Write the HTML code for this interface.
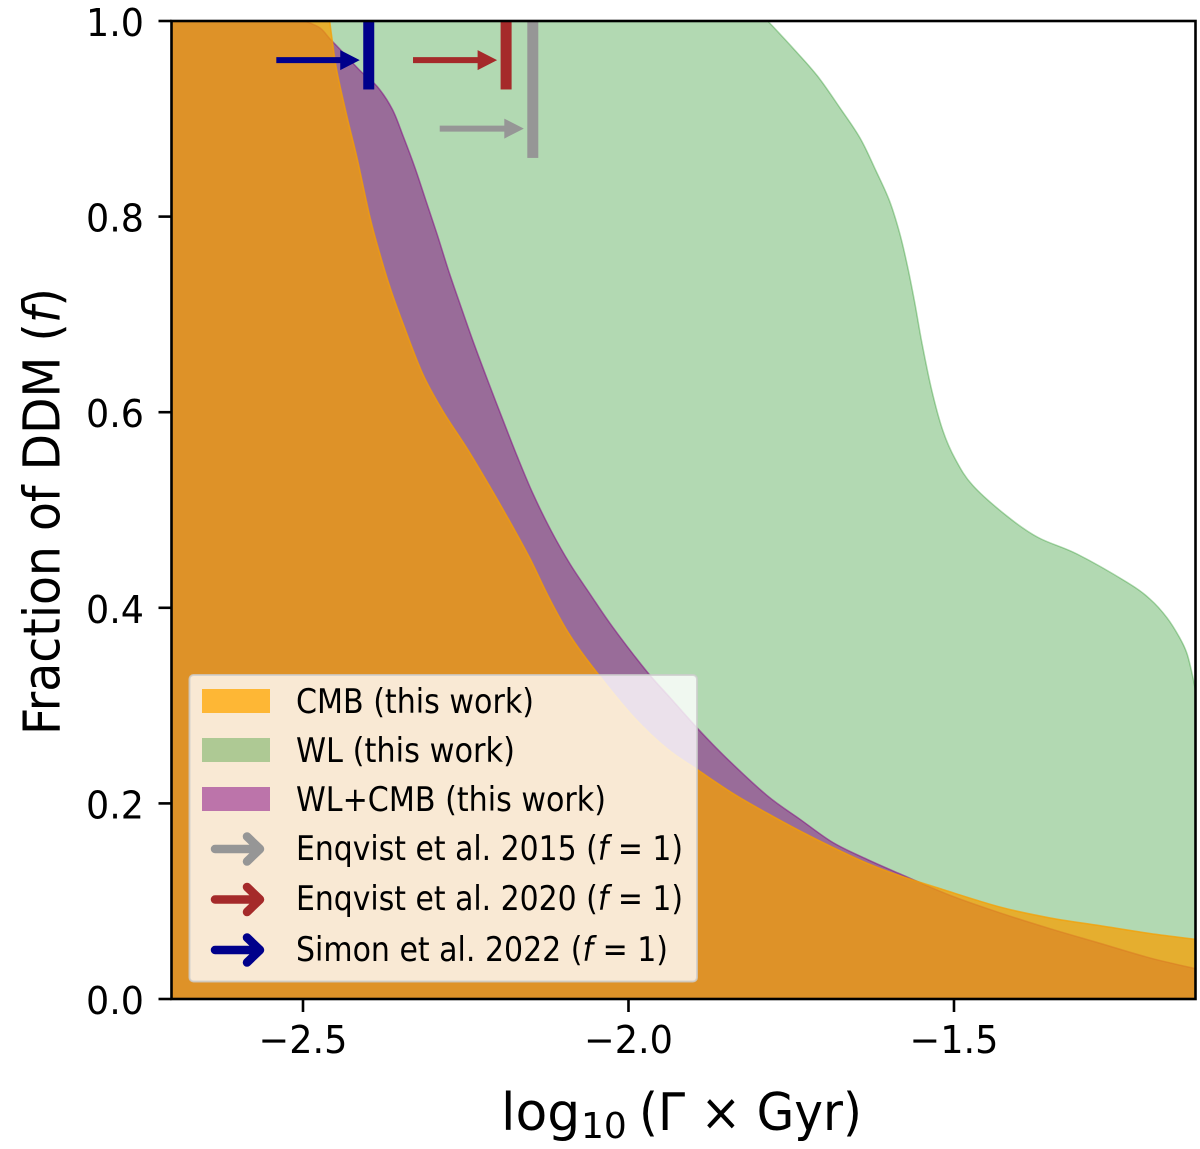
<!DOCTYPE html>
<html lang="en">
<head>
<meta charset="utf-8">
<title>Fraction of DDM constraints</title>
<style>
html,body{margin:0;padding:0;background:#fff;width:1200px;height:1149px;overflow:hidden}
svg{display:block}
text{font-family:"DejaVu Sans","Liberation Sans",sans-serif;fill:#000}
</style>
</head>
<body>
<svg id="chart" xmlns="http://www.w3.org/2000/svg" width="1200" height="1149" viewBox="0 0 1200 1149">
  <defs>
    <clipPath id="axes-clip"><rect x="171.5" y="21" width="1024" height="978"/></clipPath>
  </defs>
  <g id="regions" clip-path="url(#axes-clip)"></g>
  <g id="refs" clip-path="url(#axes-clip)"></g>
  <g id="ticks"></g>
  <rect x="171.500" y="21" width="1024" height="978" fill="none" stroke="#000" stroke-width="2.6"/>

  <g>
    <rect x="189.5" y="675" width="507.5" height="306.5" rx="4" fill="#fff" fill-opacity="0.8" stroke="#ccc" stroke-opacity="0.8" stroke-width="2"/>
    <rect x="202" y="689" width="68" height="24" fill="#ffa500" fill-opacity="0.75"/>
    <rect x="202" y="738" width="68" height="24" fill="#008000" fill-opacity="0.3"/>
    <rect x="202" y="787" width="68" height="24" fill="#800080" fill-opacity="0.5"/>

    <g fill="none" stroke-linecap="round" stroke-linejoin="round" stroke-width="8.5">
      <path d="M215 849H259M247 836.500L260 849L247 861.500" stroke="#969696"/>
      <path d="M215 899.500H259M247 887L260 899.500L247 912" stroke="#a52a2a"/>
      <path d="M215 950H259M247 937.500L260 950L247 962.500" stroke="#00008b"/>
    </g>

    <text x="296" y="713" font-size="33.500" textLength="238" lengthAdjust="spacingAndGlyphs">CMB (this work)</text>
    <text x="296" y="762" font-size="33.500" textLength="219" lengthAdjust="spacingAndGlyphs">WL (this work)</text>
    <text x="296" y="811" font-size="33.500" textLength="310" lengthAdjust="spacingAndGlyphs">WL+CMB (this work)</text>
    <text x="296" y="860" font-size="33.500" textLength="387" lengthAdjust="spacingAndGlyphs">Enqvist et al. 2015 (<tspan font-style="italic">f</tspan> = 1)</text>
    <text x="296" y="910" font-size="33.500" textLength="387" lengthAdjust="spacingAndGlyphs">Enqvist et al. 2020 (<tspan font-style="italic">f</tspan> = 1)</text>
    <text x="296" y="961" font-size="33.500" textLength="372" lengthAdjust="spacingAndGlyphs">Simon et al. 2022 (<tspan font-style="italic">f</tspan> = 1)</text>
  </g>

  <g>
    <text x="501" y="1130" font-size="52">log</text>
    <text x="581" y="1138" font-size="36">10</text>
    <text x="639" y="1130" font-size="52" textLength="223" lengthAdjust="spacingAndGlyphs">(Γ × Gyr)</text>
  </g>
  <text transform="translate(59.500 735) rotate(-90)" font-size="51" textLength="447" lengthAdjust="spacingAndGlyphs">Fraction of DDM (<tspan font-style="italic">f</tspan>)</text>
</svg>
<script>
// Boundary of the weak-lensing region
const wlGamma = [-1.786,-1.747,-1.710,-1.675,-1.644,-1.620,-1.599,-1.583,-1.571,-1.560,-1.549,-1.534,-1.517,-1.498,-1.471,-1.419,-1.371,-1.311,-1.234,-1.199,-1.173,-1.153,-1.142,-1.133,-1.129];
const wlFraction = [1.000,0.972,0.944,0.911,0.880,0.847,0.816,0.782,0.748,0.711,0.670,0.622,0.581,0.552,0.525,0.494,0.472,0.455,0.426,0.409,0.390,0.369,0.353,0.329,0.315];

// Boundary of the WL+CMB region
const jointGamma = [-2.497,-2.474,-2.459,-2.443,-2.412,-2.386,-2.363,-2.346,-2.328,-2.311,-2.294,-2.276,-2.259,-2.239,-2.216,-2.194,-2.171,-2.147,-2.119,-2.090,-2.059,-2.024,-1.972,-1.936,-1.893,-1.849,-1.787,-1.737,-1.686,-1.634,-1.583,-1.506,-1.429,-1.353,-1.276,-1.199,-1.129];
const jointFraction = [1.000,0.993,0.982,0.971,0.949,0.933,0.910,0.882,0.850,0.816,0.782,0.744,0.711,0.673,0.632,0.594,0.555,0.517,0.479,0.445,0.414,0.380,0.335,0.308,0.276,0.246,0.208,0.184,0.160,0.143,0.128,0.106,0.088,0.072,0.057,0.042,0.031];

// Boundary of the CMB region
const cmbGamma = [-2.459,-2.455,-2.448,-2.432,-2.417,-2.397,-2.382,-2.366,-2.346,-2.316,-2.285,-2.248,-2.213,-2.177,-2.151,-2.121,-2.090,-2.051,-1.993,-1.941,-1.893,-1.839,-1.787,-1.737,-1.686,-1.634,-1.583,-1.522,-1.429,-1.353,-1.276,-1.199,-1.129];
const cmbFraction = [1.000,0.980,0.949,0.901,0.860,0.799,0.762,0.727,0.690,0.639,0.601,0.563,0.524,0.482,0.450,0.409,0.372,0.336,0.289,0.256,0.234,0.210,0.190,0.172,0.155,0.139,0.126,0.113,0.094,0.083,0.075,0.067,0.061];

// Literature limits at f = 1
const refNames = ['enqvist-2015','enqvist-2020','simon-2022'];
const refGamma = [-2.147,-2.188,-2.399];
const refTailGamma = [-2.290,-2.331,-2.541];
const refArrowFraction = [0.890,0.960,0.960];
const refLowFraction = [0.860,0.930,0.930];
const refColors = ['#969696','#a52a2a','#00008b'];

// Ticks
const xTickValues = [-2.5,-2.0,-1.5];
const xTickLabels = ['\u22122.5','\u22122.0','\u22121.5'];
const yTickValues = [0,0.2,0.4,0.6,0.8,1.0];
const yTickLabels = ['0.0','0.2','0.4','0.6','0.8','1.0'];

const xDomain = [-2.702,-1.129];
const yDomain = [0,1];
const xRange = [171.5,1195.5];
const yRange = [999,21];
function sx(v){return xRange[0]+(v-xDomain[0])/(xDomain[1]-xDomain[0])*(xRange[1]-xRange[0]);}
function sy(v){return yRange[0]+(v-yDomain[0])/(yDomain[1]-yDomain[0])*(yRange[1]-yRange[0]);}

const NS = 'http://www.w3.org/2000/svg';
function make(tag,parent){const el=document.createElementNS(NS,tag);parent.appendChild(el);return el;}

function smoothPath(xs,ys){
  const p=xs.map((x,i)=>[sx(x),sy(ys[i])]);
  let d='L'+p[0][0].toFixed(2)+' '+p[0][1].toFixed(2);
  for(let i=0;i<p.length-1;i++){
    const a=p[Math.max(i-1,0)],b=p[i],c=p[i+1],e=p[Math.min(i+2,p.length-1)];
    const c1x=b[0]+(c[0]-a[0])/6,c1y=b[1]+(c[1]-a[1])/6;
    const c2x=c[0]-(e[0]-b[0])/6,c2y=c[1]-(e[1]-b[1])/6;
    d+='C'+c1x.toFixed(2)+' '+c1y.toFixed(2)+' '+c2x.toFixed(2)+' '+c2y.toFixed(2)+' '+c[0].toFixed(2)+' '+c[1].toFixed(2);
  }
  return d;
}
function regionPath(xs,ys){
  const left=sx(xDomain[0]),right=sx(xDomain[1]),base=sy(0),top=sy(1);
  return 'M'+left+' '+base+'L'+left+' '+top+smoothPath(xs,ys)+'L'+right+' '+base+'Z';
}
function styleRegion(el,xs,ys,color,alpha){
  el.setAttribute('d',regionPath(xs,ys));
  el.setAttribute('fill',color);
  el.setAttribute('fill-opacity',alpha);
  el.setAttribute('stroke',color);
  el.setAttribute('stroke-opacity',alpha);
  el.setAttribute('stroke-width','1.5');
}

const regions=document.getElementById('regions');
const wlRegion=make('path',regions);


styleRegion(wlRegion,wlGamma,wlFraction,'#008000',0.3);

const jointRegion=make('path',regions);


styleRegion(jointRegion,jointGamma,jointFraction,'#800080',0.5);

const cmbRegion=make('path',regions);


styleRegion(cmbRegion,cmbGamma,cmbFraction,'#f69f03',0.75);

const refs=document.getElementById('refs');
refNames.forEach(function(name,i){
  const barX=sx(refGamma[i]);
  const bar=make('rect',refs);
  
  
  bar.setAttribute('x',barX-5.5);
  bar.setAttribute('y',sy(1));
  bar.setAttribute('width',11);
  bar.setAttribute('height',sy(refLowFraction[i])-sy(1));
  bar.setAttribute('fill',refColors[i]);

  const ay=sy(refArrowFraction[i]);
  const tip=barX-9;
  const neck=tip-19.5;
  const arrow=make('path',refs);
  
  
  arrow.setAttribute('d','M'+sx(refTailGamma[i])+' '+(ay-3)+'H'+neck+'V'+(ay-10)+'L'+tip+' '+ay+'L'+neck+' '+(ay+10)+'V'+(ay+3)+'H'+sx(refTailGamma[i])+'Z');
  arrow.setAttribute('fill',refColors[i]);
});

const ticks=document.getElementById('ticks');
xTickValues.forEach(function(v,i){
  const px=sx(v);
  const mark=make('line',ticks);
  
  
  mark.setAttribute('x1',px);
  mark.setAttribute('x2',px);
  mark.setAttribute('y1',sy(0));
  mark.setAttribute('y2',sy(0)+13);
  mark.setAttribute('stroke','#000');
  mark.setAttribute('stroke-width','2.6');
  const label=make('text',ticks);
  
  
  label.setAttribute('x',px-44.5);
  label.setAttribute('y',1053);
  label.setAttribute('font-size','38');
  label.setAttribute('textLength','89');
  label.setAttribute('lengthAdjust','spacingAndGlyphs');
  label.textContent=xTickLabels[i];
});
yTickValues.forEach(function(v,i){
  const py=sy(v);
  const mark=make('line',ticks);
  
  
  mark.setAttribute('x1',sx(xDomain[0])-13);
  mark.setAttribute('x2',sx(xDomain[0]));
  mark.setAttribute('y1',py);
  mark.setAttribute('y2',py);
  mark.setAttribute('stroke','#000');
  mark.setAttribute('stroke-width','2.6');
  const label=make('text',ticks);
  
  
  label.setAttribute('x',86);
  label.setAttribute('y',py+15);
  label.setAttribute('font-size','38');
  label.setAttribute('textLength','58');
  label.setAttribute('lengthAdjust','spacingAndGlyphs');
  label.textContent=yTickLabels[i];
});
</script>
</body>
</html>
